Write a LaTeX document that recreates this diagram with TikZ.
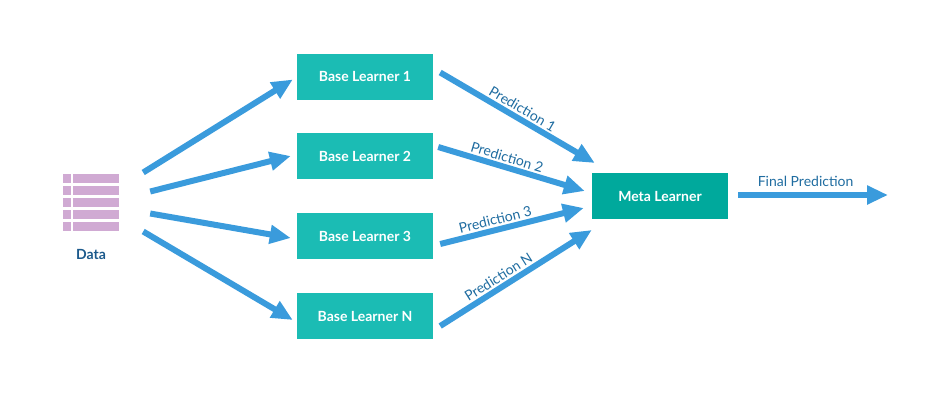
\documentclass[tikz,border=0pt]{standalone}
\usepackage{fontspec}
\setmainfont{Lato}
\usetikzlibrary{arrows.meta,calc}
\definecolor{baseteal}{HTML}{1BBCB4}
\definecolor{metateal}{HTML}{00A99C}
\definecolor{arrowblue}{HTML}{3A9BDC}
\definecolor{labelblue}{HTML}{1F6CA0}
\definecolor{datablue}{HTML}{1C5A8C}
\definecolor{datapurple}{HTML}{D0AAD3}
\tikzset{
  learner/.style={fill=baseteal, text=white, minimum width=136pt, minimum height=46pt, inner sep=0pt, font=\fontsize{14}{16}\selectfont\bfseries},
  metabox/.style={learner, fill=metateal},
  arr/.style={draw=arrowblue, line width=6pt, -{Triangle[length=21pt,width=18pt]}},
  plabel/.style={text=labelblue, font=\fontsize{14}{16}\selectfont, inner sep=1pt},
  cell/.style={fill=datapurple},
}
\begin{document}
\begin{tikzpicture}[x=1pt,y=-1pt]
\useasboundingbox (0,0) rectangle (946,400);
% data icon
\foreach \y in {174,186,198,210,222}{
  \fill[cell] (63,\y) rectangle (71,\y+9);
  \fill[cell] (73,\y) rectangle (119,\y+9);
}
\node[inner sep=0pt, minimum width=56pt, minimum height=57pt] (data) at (91,202.5) {};
\node[text=datablue, font=\fontsize{14}{16}\selectfont\bfseries] (datalabel) at (91,254) {Data};
% learners
\node[learner] (bl1) at (365,76.5) {Base Learner 1};
\node[learner] (bl2) at (365,156) {Base Learner 2};
\node[learner] (bl3) at (365,236) {Base Learner 3};
\node[learner] (bln) at (365,316) {Base Learner N};
\node[metabox] (meta) at (660,196) {Meta Learner};
\coordinate (out) at (888,195);
% data arrows
\draw[arr] ($(data.east)+(24,-30)$) -- ($(bl1.west)+(-4,3)$);
\draw[arr] ($(data.east)+(31,-11)$) -- ($(bl2.west)+(-6,0)$);
\draw[arr] ($(data.east)+(31,11)$) -- ($(bl3.west)+(-6,2)$);
\draw[arr] ($(data.east)+(24,29)$) -- ($(bln.west)+(-4,4)$);
% prediction arrows
\draw[arr] ($(bl1.east)+(7,-4)$) -- node[plabel, sloped, above=1pt, pos=0.5] {Prediction 1} ($(meta.west)+(3,-33)$);
\draw[arr] ($(bl2.east)+(5,-9)$) -- node[plabel, sloped, above=1pt, pos=0.45] {Prediction 2} ($(meta.west)+(-7,-5)$);
\draw[arr] ($(bl3.east)+(7,8)$) -- node[plabel, sloped, above=1pt, pos=0.4] {Prediction 3} ($(meta.west)+(-8,12)$);
\draw[arr] ($(bln.east)+(7,10)$) -- node[plabel, sloped, above=1pt, pos=0.42] {Prediction N} ($(meta.west)+(0,34)$);
% final
\draw[arr] ($(meta.east)+(10,-1)$) -- node[plabel, above=4pt, pos=0.45] {Final Prediction} (out);
\end{tikzpicture}
\end{document}
